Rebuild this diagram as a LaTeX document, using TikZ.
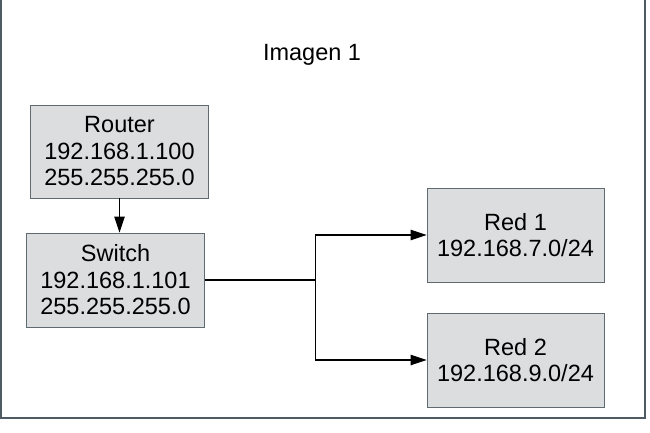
\documentclass[tikz,border=0pt]{standalone}
\usepackage{fontspec}
\setmainfont{Liberation Sans}
\usepackage{tikz}
\usetikzlibrary{arrows.meta,positioning,calc}
\usepackage{xcolor}
\definecolor{BoxFill}{HTML}{DCDDDE}
\definecolor{BoxLine}{HTML}{5F6B70}
\definecolor{FrameLine}{HTML}{4E5B62}

\begin{document}
\begin{tikzpicture}[x=1pt,y=-1pt,
                    every node/.style={font=\fontsize{23.5}{26.5}\selectfont},
                    netbox/.style={rectangle,fill=BoxFill,draw=BoxLine,
                                   line width=0.9pt,align=center,inner sep=0pt},
                    link/.style={-{Triangle[length=16pt,width=10.5pt]},black,line width=1.1pt}]
        \useasboundingbox (0,0) rectangle (650,433);
        \draw[FrameLine,line width=1.3pt] (1,-3) rectangle (645,418);
        \node (title) at (312,55) {Imagen 1};
        \node[netbox,minimum width=178pt,minimum height=93pt] (router)
          at (119.5,151.5) {Router\\192.168.1.100\\255.255.255.0};
        \node[netbox,minimum width=178pt,minimum height=94pt] (switch)
          at (115.5,280) {Switch\\192.168.1.101\\255.255.255.0};
        \node[netbox,minimum width=177pt,minimum height=94pt] (red1)
          at (515.5,235) {Red 1\\192.168.7.0/24};
        \node[netbox,minimum width=177pt,minimum height=94pt] (red2)
          at (515.5,360) {Red 2\\192.168.9.0/24};
        \coordinate (split) at (315.5,280);
        \draw[link] (router.south) -- (router.south |- switch.north);
        \draw[line width=1.1pt] (switch.east) -- (split);
        \draw[link] (split) |- (red1.west);
        \draw[link] (split) |- (red2.west);
      \end{tikzpicture}
\end{document}
